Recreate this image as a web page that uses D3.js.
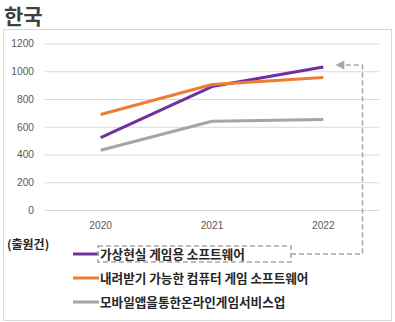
<!DOCTYPE html>
<html>
<head>
<meta charset="utf-8">
<script src="https://cdn.jsdelivr.net/npm/d3@7"></script>
<style>
  html, body { margin: 0; padding: 0; background: #fff; }
  svg { display: block; }
</style>
</head>
<body>
<svg id="chart" width="395" height="322"></svg>
<script>
// Patent filings (출원건) by year for three game-related categories
const years = ["2020", "2021", "2022"];
const seriesNames = [
  "가상현실 게임용 소프트웨어",
  "내려받기 가능한 컴퓨터 게임 소프트웨어",
  "모바일앱을통한온라인게임서비스업"
];
const vrSoftware = [522, 890, 1030];
const downloadableSoftware = [688, 905, 955];
const mobileOnlineService = [431, 640, 652];
const yTicks = [0, 200, 400, 600, 800, 1000, 1200];
const seriesColors = ["#7030a0", "#ed7d31", "#a5a5a5"];

const seriesValues = [vrSoftware, downloadableSoftware, mobileOnlineService];

const svg = d3.select("#chart");
const KR = "'Noto Sans CJK KR', 'Noto Sans', sans-serif";
const NUM = "'Liberation Sans', Arial, sans-serif";

// Title
svg.append("text")
  .attr("x", 4).attr("y", 24)
  .attr("font-family", KR).attr("font-size", 21).attr("font-weight", 700)
  .attr("fill", "#404040")
  .text("한국");

// Chart frame
svg.append("rect")
  .attr("x", 3.5).attr("y", 29.5).attr("width", 388).attr("height", 291)
  .attr("fill", "none").attr("stroke", "#d9d9d9").attr("stroke-width", 1);

const x = d3.scaleBand().domain(years).range([45, 379]).padding(0);
const y = d3.scaleLinear().domain([0, 1200]).range([210, 43.5]);

// Y axis with gridlines
const yAxis = svg.append("g")
  .attr("transform", "translate(45,0)")
  .call(d3.axisLeft(y).tickValues(yTicks).tickFormat(d3.format("d"))
    .tickSize(-(379 - 45)).tickPadding(11));
yAxis.select(".domain").remove();
yAxis.selectAll(".tick line").attr("stroke", "#d9d9d9").attr("stroke-width", 1);
yAxis.selectAll(".tick text")
  .attr("font-family", NUM).attr("font-size", 10.2).attr("fill", "#595959");

// X axis (labels only)
const xAxis = svg.append("g")
  .attr("transform", "translate(0,210)")
  .call(d3.axisBottom(x).tickSize(0).tickPadding(12));
xAxis.select(".domain").remove();
xAxis.selectAll(".tick text")
  .attr("font-family", NUM).attr("font-size", 10.2).attr("fill", "#595959");

// Series lines
const line = d3.line()
  .x((d, i) => x(years[i]) + x.bandwidth() / 2)
  .y(d => y(d));

svg.append("g").selectAll("path")
  .data(seriesValues)
  .join("path")
  .attr("d", line)
  .attr("fill", "none")
  .attr("stroke", (d, i) => seriesColors[i])
  .attr("stroke-width", 3)
  .attr("stroke-linejoin", "round");

// Unit label
svg.append("text")
  .attr("x", 7).attr("y", 249)
  .attr("font-family", KR).attr("font-size", 12).attr("font-weight", 700)
  .attr("fill", "#262626")
  .text("(출원건)");

// Legend
const legendTop = 254, legendStep = 24;
const legend = svg.append("g").selectAll("g")
  .data(seriesNames)
  .join("g")
  .attr("transform", (d, i) => `translate(0,${legendTop + i * legendStep})`);
legend.append("line")
  .attr("x1", 73).attr("x2", 99).attr("y1", 0).attr("y2", 0)
  .attr("stroke", (d, i) => seriesColors[i]).attr("stroke-width", 3);
legend.append("text")
  .attr("x", 100).attr("y", 0).attr("dy", "0.36em")
  .attr("font-family", KR).attr("font-size", 12.6).attr("font-weight", 700)
  .attr("fill", "#262626")
  .text(d => d);

// Dashed callout linking the first legend entry to the 2022 end of its line
const dash = "5,3";
const calloutColor = "#a6a6a6";
const boxL = 98, boxR = 291, boxT = 246, boxB = 262;
svg.append("rect")
  .attr("x", boxL).attr("y", boxT).attr("width", boxR - boxL).attr("height", boxB - boxT)
  .attr("fill", "none").attr("stroke", calloutColor).attr("stroke-width", 1.5)
  .attr("stroke-dasharray", dash);

const endX = x("2022") + x.bandwidth() / 2;
const arrowY = y(vrSoftware[2]) - 2;
const tipX = endX + 12;
const turnX = 362.5;
svg.append("path")
  .attr("d", `M${boxR},${legendTop} H${turnX} V${arrowY} H${tipX + 7}`)
  .attr("fill", "none").attr("stroke", calloutColor).attr("stroke-width", 1.5)
  .attr("stroke-dasharray", dash);
svg.append("path")
  .attr("d", `M${tipX},${arrowY} L${tipX + 9},${arrowY - 4.5} L${tipX + 9},${arrowY + 4.5} Z`)
  .attr("fill", calloutColor);
</script>
</body>
</html>
